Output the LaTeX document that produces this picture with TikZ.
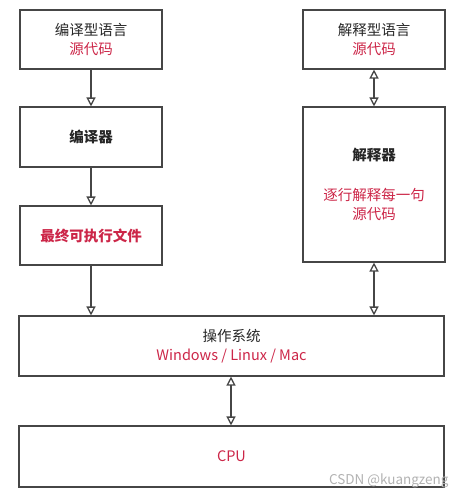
\documentclass[tikz,border=0pt]{standalone}
\usepackage{fontspec}
\setmainfont{Noto Sans CJK SC}
\usetikzlibrary{arrows.meta}
\definecolor{redtext}{RGB}{204,38,72}
\definecolor{boxline}{RGB}{70,70,70}
\tikzset{
  box/.style={draw=boxline, line width=1.1pt, minimum width=142pt, align=center, inner sep=0pt, text=black!85},
  wide/.style={box, minimum width=425pt},
  conn/.style={draw=boxline, line width=1.3pt, -{Triangle[open, width=9pt, length=9pt]}},
  both/.style={conn, {Triangle[open, width=9pt, length=9pt]}-{Triangle[open, width=9pt, length=9pt]}}
}
\begin{document}
\begin{tikzpicture}[x=1pt, y=-1pt, font=\fontsize{14.5}{19}\selectfont]
    \useasboundingbox (0,0) rectangle (461,498);

    \node [box, minimum height=59pt] (srcC) at (91, 39.5)
      {编译型语言\\\textcolor{redtext}{源代码}};
    \node [box, minimum height=60pt] (compiler) at (91, 137)
      {\textbf{编译器}};
    \node [box, minimum height=59pt] (exe) at (91, 235.5)
      {\textcolor{redtext}{\textbf{最终可执行文件}}};

    \node [box, minimum height=59pt] (srcI) at (374, 39.5)
      {解释型语言\\\textcolor{redtext}{源代码}};
    \node [box, minimum height=155pt] (interp) at (374, 184.5)
      {\textbf{解释器}\\[21pt]\textcolor{redtext}{逐行解释每一句}\\\textcolor{redtext}{源代码}};

    \node [wide, minimum height=60pt] (os) at (231.5, 346)
      {操作系统\\\textcolor{redtext}{Windows / Linux / Mac}};
    \node [wide, minimum height=61pt] (cpu) at (231.5, 456.5)
      {\textcolor{redtext}{CPU}};

    \draw [conn] (srcC) -- (compiler);
    \draw [conn] (compiler) -- (exe);
    \draw [conn] (exe) -- (exe.south |- os.north);
    \draw [both] (srcI) -- (interp);
    \draw [both] (interp) -- (interp.south |- os.north);
    \draw [both] ([xshift=-0.5pt]os.south) -- ([xshift=-0.5pt]cpu.north);

    \node [anchor=south east, text=gray!60, font=\fontsize{13.5}{15}\selectfont] (mark) at (452, 491)
      {CSDN @kuangzeng};
\end{tikzpicture}
\end{document}
